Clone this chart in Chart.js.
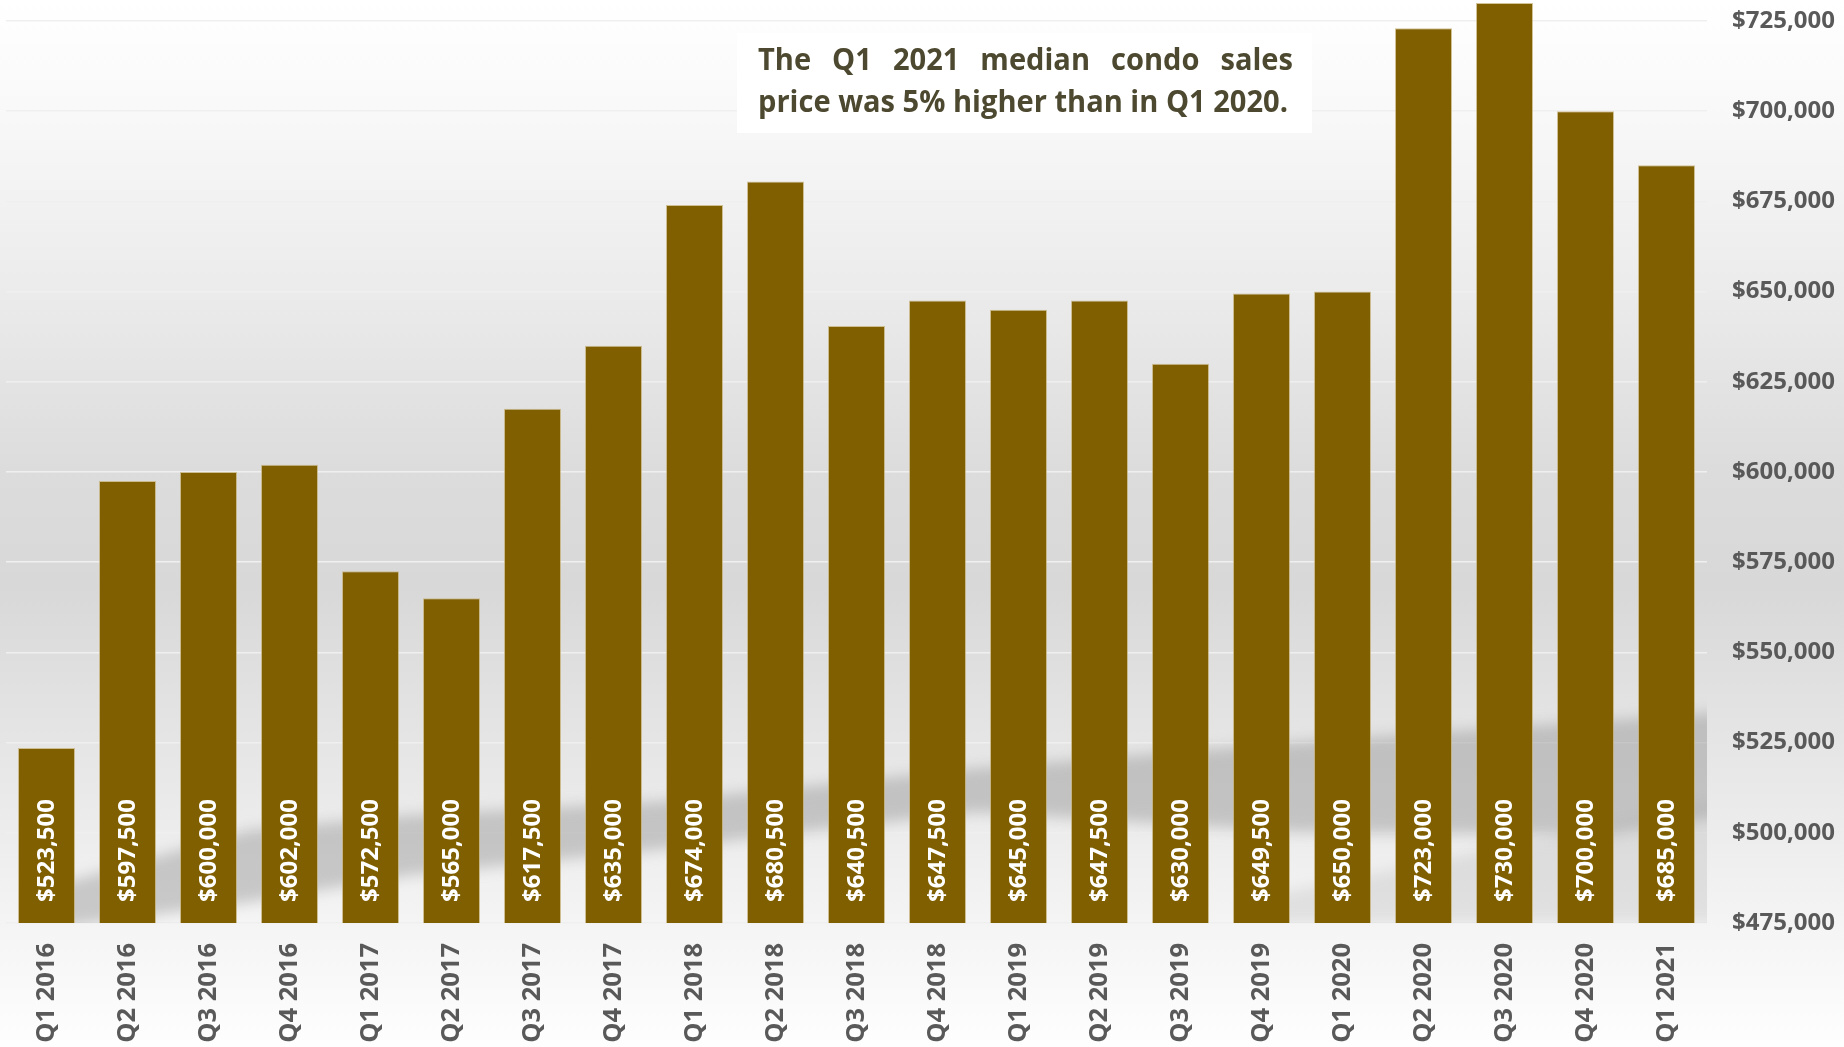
<!DOCTYPE html>
<html lang="en">
<head>
	<meta charset="UTF-8">
	<title>Median Condo Sales Price</title>
	<script src="https://cdn.jsdelivr.net/npm/chart.js"></script>
	<style>
		body { margin: 0; background: #fff; }
		#wrap { width: 1844px; height: 1047px; position: relative; }
	</style>
</head>
<body>
	<div id="wrap">
		<canvas id="myChart" width="1844" height="1047"></canvas>
	</div>

	<script>
		const quarters = ['Q1 2016', 'Q2 2016', 'Q3 2016', 'Q4 2016', 'Q1 2017', 'Q2 2017', 'Q3 2017', 'Q4 2017',
			'Q1 2018', 'Q2 2018', 'Q3 2018', 'Q4 2018', 'Q1 2019', 'Q2 2019', 'Q3 2019', 'Q4 2019',
			'Q1 2020', 'Q2 2020', 'Q3 2020', 'Q4 2020', 'Q1 2021'];
		const medianPrice = [523500, 597500, 600000, 602000, 572500, 565000, 617500, 635000,
			674000, 680500, 640500, 647500, 645000, 647500, 630000, 649500,
			650000, 723000, 730000, 700000, 685000];
		const yTicks = [475000, 500000, 525000, 550000, 575000, 600000, 625000, 650000, 675000, 700000, 725000];
		const noteLines = ['The Q1 2021 median condo sales', 'price was 5% higher than in Q1 2020.'];

		const money = v => '$' + v.toLocaleString('en-US');

		// grey backdrop + soft diagonal shadow behind the columns
		const backdrop = {
			id: 'backdrop',
			beforeDraw(chart) {
				const c = chart.ctx;
				const g = c.createLinearGradient(0, 0, 0, chart.height);
				g.addColorStop(0, '#ffffff');
				g.addColorStop(0.1, '#f9f9f9');
				g.addColorStop(0.28, '#ebebeb');
				g.addColorStop(0.45, '#dcdcdc');
				g.addColorStop(0.56, '#d8d8d8');
				g.addColorStop(0.67, '#e2e2e2');
				g.addColorStop(0.8, '#ededed');
				g.addColorStop(0.89, '#f5f5f5');
				g.addColorStop(1, '#fefefe');
				c.save();
				c.fillStyle = g;
				c.fillRect(0, 0, chart.width, chart.height);
				c.restore();
			},
			beforeDatasetsDraw(chart) {
				const c = chart.ctx;
				const a = chart.chartArea;
				const top = [[40, 890], [249, 830], [411, 815], [654, 802], [816, 785], [977, 768], [1300, 742], [a.right + 20, 712]];
				const bottom = [[a.right + 20, 815], [1600, 835], [1300, 832], [977, 812], [816, 830], [654, 850], [411, 875], [249, 902], [40, 930]];
				c.save();
				c.beginPath();
				c.rect(a.left, a.top, a.right - a.left, a.bottom - a.top);
				c.clip();
				c.filter = 'blur(7px)';
				c.fillStyle = 'rgba(125,125,125,0.36)';
				c.beginPath();
				top.concat(bottom).forEach((p, i) => i ? c.lineTo(p[0], p[1]) : c.moveTo(p[0], p[1]));
				c.closePath();
				c.fill();
				// fainter tail under the right end
				c.fillStyle = 'rgba(140,140,140,0.18)';
				c.beginPath();
				c.moveTo(1250, 900);
				c.lineTo(a.right + 20, 800);
				c.lineTo(a.right + 20, 923);
				c.lineTo(1250, 923);
				c.closePath();
				c.fill();
				c.restore();
			}
		};

		// vertical price labels inside each column
		const valueLabels = {
			id: 'valueLabels',
			afterDatasetsDraw(chart) {
				const c = chart.ctx;
				const meta = chart.getDatasetMeta(0);
				const base = chart.scales.y.getPixelForValue(475000);
				c.save();
				c.fillStyle = '#ffffff';
				c.font = 'bold 24px "Open Sans"';
				c.textAlign = 'left';
				c.textBaseline = 'middle';
				meta.data.forEach((bar, i) => {
					c.save();
					c.translate(bar.x, base - 21);
					c.rotate(-Math.PI / 2);
					c.fillText(money(medianPrice[i]), 0, 1);
					c.restore();
				});
				c.restore();
			}
		};

		// text box at the top, first line justified
		const note = {
			id: 'note',
			afterDraw(chart) {
				const c = chart.ctx;
				c.save();
				c.fillStyle = '#ffffff';
				c.fillRect(737, 33, 575, 100);
				c.font = 'bold 30px "Open Sans"';
				const sx = 530 / c.measureText(noteLines[1]).width;
				c.translate(758, 0);
				c.scale(sx, 1);
				c.fillStyle = '#4d4930';
				c.textBaseline = 'alphabetic';
				c.textAlign = 'left';
				const width = 535 / sx;
				const words = noteLines[0].split(' ');
				const used = words.reduce((s, w) => s + c.measureText(w).width, 0);
				const gap = (width - used) / (words.length - 1);
				let x = 0;
				words.forEach(w => {
					c.fillText(w, x, 70);
					x += c.measureText(w).width + gap;
				});
				c.fillText(noteLines[1], 0, 112);
				c.restore();
			}
		};

		new Chart(document.getElementById('myChart'), {
			type: 'bar',
			data: {
				labels: quarters,
				datasets: [{
					data: medianPrice,
					backgroundColor: '#7f5f00',
					borderColor: 'rgba(196,176,118,0.75)',
					borderWidth: 1,
					barPercentage: 0.704,
					categoryPercentage: 1
				}]
			},
			plugins: [backdrop, valueLabels, note],
			options: {
				responsive: false,
				animation: false,
				layout: { padding: { left: 6, top: 0, right: 0, bottom: 0 } },
				plugins: {
					legend: { display: false },
					tooltip: { enabled: false }
				},
				scales: {
					x: {
						grid: { display: false },
						border: { display: false },
						ticks: {
							color: '#595959',
							font: { family: '"Open Sans"', size: 25.5, weight: 'bold' },
							minRotation: 90,
							maxRotation: 90,
							autoSkip: false,
							padding: 12
						},
						afterFit(scale) {
							scale.height = 124;
							scale.paddingLeft = 0;
							scale.paddingRight = 0;
						}
					},
					y: {
						position: 'right',
						min: 475000,
						max: 730820,
						grid: { color: '#efefef', lineWidth: 1.6, drawTicks: false },
						border: { display: false },
						ticks: {
							color: '#595959',
							font: { family: '"Open Sans"', size: 24, weight: 'bold' },
							padding: 25,
							callback: v => money(v)
						},
						afterBuildTicks(scale) {
							scale.ticks = yTicks.map(v => ({ value: v }));
						},
						afterFit(scale) {
							scale.width = 137;
							scale.paddingTop = 0;
							scale.paddingBottom = 0;
						}
					}
				}
			}
		});
	</script>
</body>
</html>
